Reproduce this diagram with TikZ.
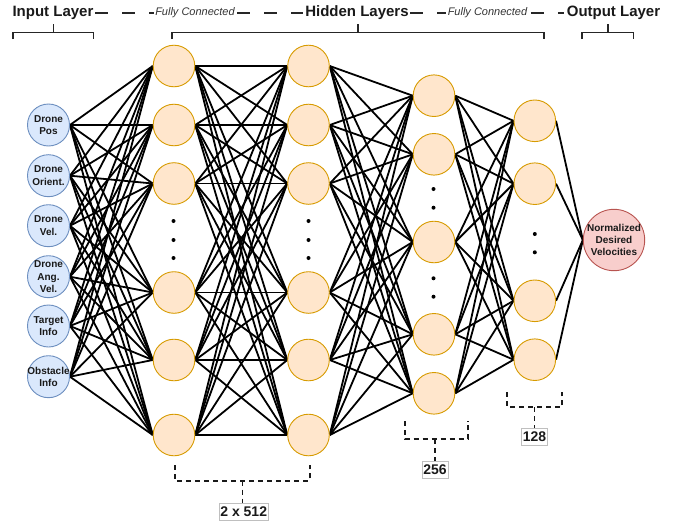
\documentclass[tikz,border=0pt]{standalone}
\usepackage{fontspec}
\setmainfont{Liberation Sans}
\usetikzlibrary{backgrounds}
\definecolor{inpfill}{HTML}{DAE8FC}
\definecolor{inpdraw}{HTML}{6C8EBF}
\definecolor{hidfill}{HTML}{FFE6CC}
\definecolor{hiddraw}{HTML}{D79B00}
\definecolor{outfill}{HTML}{F8CECC}
\definecolor{outdraw}{HTML}{B85450}
\begin{document}
\begin{tikzpicture}[x=1pt,y=-1pt,
  inpnode/.style={circle,draw=inpdraw,fill=inpfill,line width=0.9pt,minimum size=42pt,inner sep=0pt},
  hidnode/.style={circle,draw=hiddraw,fill=hidfill,line width=0.9pt,minimum size=41.6pt,inner sep=0pt},
  outnode/.style={circle,draw=outdraw,fill=outfill,line width=0.9pt,minimum size=61.4pt,inner sep=0pt},
  nodetext/.style={align=center,font=\fontsize{10}{12.3}\selectfont\bfseries,inner sep=0pt,text=black!90},
  link/.style={line width=1.8pt,black},
  ellip/.style={circle,fill=black,minimum size=4pt,inner sep=0pt},
  head/.style={font=\fontsize{15}{18}\selectfont\bfseries,inner sep=0pt,anchor=base,text=black!90},
  fc/.style={font=\fontsize{11}{13}\selectfont\itshape,inner sep=0pt,anchor=base,text=black!80},
  topdash/.style={line width=1.6pt,dash pattern=on 13pt off 14pt,black!85},
  brace/.style={line width=1.6pt,black!85},
  sizebrace/.style={line width=1.7pt,dash pattern=on 5pt off 4pt,black!90},
  sizelabel/.style={draw=black!25,line width=0.8pt,font=\fontsize{14}{16}\selectfont\bfseries,
    inner xsep=1.3pt,inner ysep=3.3pt,text=black!90}]
\useasboundingbox (0,0) rectangle (689,525);

% ---- input features ----
\foreach \y/\t [count=\k] in {125/{Drone\\Pos},175.7/{Drone\\Orient.},225.7/{Drone\\Vel.},
    276.7/{Drone\\Ang.\\Vel.},326/{Target\\Info},376.7/{Obstacle\\Info}} {
  \node[inpnode] (i\k) at (48.5,\y) {};
  \node[nodetext] (it\k) at (i\k) {\t};
}

% ---- hidden layers ----
\foreach \y [count=\k] in {66,125,183.5,292.5,360,435}
  \node[hidnode] (a\k) at (174,\y) {};
\foreach \y [count=\k] in {66,125,183.5,292.5,360,435}
  \node[hidnode] (b\k) at (308.5,\y) {};
\foreach \y [count=\k] in {95.7,154.3,242,334.3,393.3}
  \node[hidnode] (c\k) at (434,\y) {};
\foreach \y [count=\k] in {120.8,183.7,300.8,359.7}
  \node[hidnode] (d\k) at (534.8,\y) {};

% ---- output ----
\node[outnode] (out) at (614,240) {};
\node[nodetext] (outtext) at (out) {Normalized\\Desired\\Velocities};

% ---- ellipsis dots ----
\foreach \y [count=\k] in {221,240,258} {
  \node[ellip] (ea\k) at (173.5,\y) {};
  \node[ellip] (eb\k) at (308.5,\y) {};
}
\foreach \y [count=\k] in {189,207.7,278.3,296.7}
  \node[ellip] (ec\k) at (433.5,\y) {};
\foreach \y [count=\k] in {234,252.3}
  \node[ellip] (ed\k) at (534.8,\y) {};

% ---- fully connected links ----
\begin{pgfonlayer}{background}
\foreach \p in {1,...,6} \foreach \q in {1,...,6}
  \draw[link] (i\p.east) -- (a\q.west);
\foreach \p in {1,...,6} \foreach \q in {1,...,6}
  \draw[link] (a\p.east) -- (b\q.west);
\foreach \p in {1,...,6} \foreach \q in {1,...,5}
  \draw[link] (b\p.east) -- (c\q.west);
\foreach \p in {1,...,5} \foreach \q in {1,...,4}
  \draw[link] (c\p.east) -- (d\q.west);
\foreach \p in {1,...,4}
  \draw[link] (d\p.east) -- (out.west);
\end{pgfonlayer}

% ---- header row ----
\node[head] (hin) at (53,16.7) {Input Layer};
\node[fc] (fc1) at (195,15.8) {Fully Connected};
\node[head] (hhid) at (357,16.7) {Hidden Layers};
\node[fc] (fc2) at (487.5,15.8) {Fully Connected};
\node[head] (hout) at (613.5,16.7) {Output Layer};
\draw[topdash] ([shift={(1.6,-4)}]hin.base east) -- ([shift={(-1.5,-3.1)}]fc1.base west);
\draw[topdash] ([shift={(2.5,-3.1)}]fc1.base east) -- ([shift={(-1.8,-4)}]hhid.base west);
\draw[topdash] ([shift={(1.5,-4)}]hhid.base east) -- ([shift={(-1.2,-3.1)}]fc2.base west);
\draw[topdash] ([shift={(3.5,-3.1)}]fc2.base east) -- ([shift={(-2.8,-4)}]hout.base west);

% ---- header brackets ----
\coordinate (bin) at (53.3,24);
\draw[brace] (12.7,39) -- (12.7,32.3) -- (93.3,32.3) -- (93.3,39);
\draw[brace] (bin) -- (53.3,32.3);
\coordinate (bhid) at (357.7,24);
\draw[brace] (171.7,39) -- (171.7,32.3) -- (544,32.3) -- (544,39);
\draw[brace] (bhid) -- (357.7,32.3);
\coordinate (bout) at (607.7,24);
\draw[brace] (581.7,39) -- (581.7,32.3) -- (633.3,32.3) -- (633.3,39);
\draw[brace] (bout) -- (607.7,32.3);

% ---- layer size brackets ----
\node[sizelabel] (s512) at (243.7,511.7) {2 x 512};
\coordinate (m512) at (242.5,480.7);
\draw[sizebrace] (175,465) -- (175,480.7) -- (310,480.7) -- (310,465);
\draw[sizebrace] (m512) -- (m512 |- s512.north);

\node[sizelabel] (s256) at (435,470) {256};
\coordinate (m256) at (435,439.3);
\draw[sizebrace] (405,421) -- (405,439.3) -- (467.7,439.3) -- (467.7,421);
\draw[sizebrace] (m256) -- (m256 |- s256.north);

\node[sizelabel] (s128) at (534.5,436.7) {128};
\coordinate (m128) at (534.5,407.3);
\draw[sizebrace] (507.3,392) -- (507.3,407.3) -- (562,407.3) -- (562,392);
\draw[sizebrace] (m128) -- (m128 |- s128.north);
\end{tikzpicture}
\end{document}
